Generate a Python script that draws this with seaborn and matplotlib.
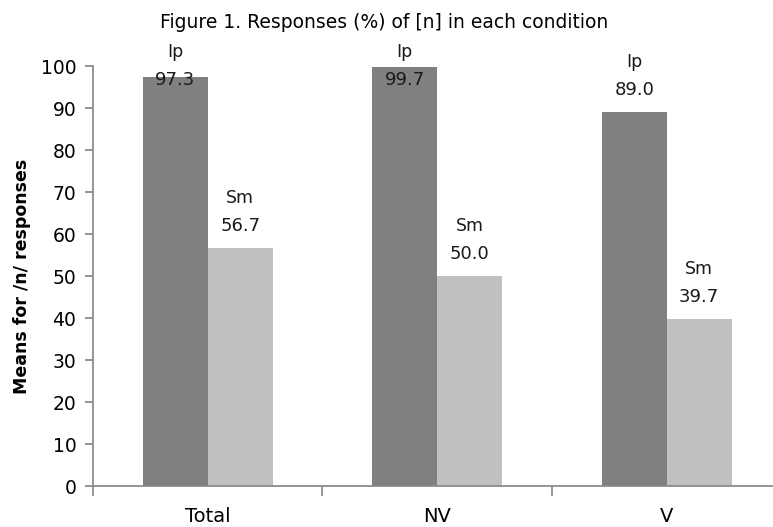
import matplotlib
matplotlib.use("Agg")
import matplotlib.pyplot as plt
import seaborn as sns
import pandas as pd

# ---- data ----
conditions = ["Total", "NV", "V"]
series_names = ["Ip", "Sm"]
ip_values = [97.3, 99.7, 89.0]
sm_values = [56.7, 50.0, 39.7]
y_ticks = [0, 10, 20, 30, 40, 50, 60, 70, 80, 90, 100]
title_text = "Figure 1. Responses (%) of [n] in each condition"
y_label = "Means for /n/ responses"

df = pd.DataFrame({
    "condition": conditions * 2,
    "series": [series_names[0]] * len(conditions) + [series_names[1]] * len(conditions),
    "value": ip_values + sm_values,
})

sns.set_theme(style="white")
plt.rcParams["font.family"] = ["DejaVu Sans"]

W, H = 773, 527
fig = plt.figure(figsize=(W / 100, H / 100), dpi=100)
ax = fig.add_axes([93 / W, 41 / H, 688.5 / W, 420 / H])

sns.barplot(data=df, x="condition", y="value", hue="series",
            order=conditions, hue_order=series_names,
            palette=["#808080", "#c0c0c0"], saturation=1,
            width=0.567, linewidth=0, legend=False, ax=ax)

ax.set_ylim(0, 100)
ax.set_xlim(-0.5, 2.5)
ax.set_yticks(y_ticks)
ax.set_xticks(range(len(conditions)))
ax.set_xticklabels(conditions)
ax.set_xticks([-0.5, 0.5, 1.5, 2.5], minor=True)
ax.set_xlabel("")

spine_c = "#8c8c8c"
for s in ["top", "right"]:
    ax.spines[s].set_visible(False)
for s in ["left", "bottom"]:
    ax.spines[s].set_color(spine_c)
    ax.spines[s].set_linewidth(1.3)

ax.tick_params(axis="y", left=True, length=6, width=1.3, color=spine_c,
               labelsize=13.5, labelcolor="#000000", pad=6)
ax.tick_params(axis="x", which="major", bottom=True, length=0,
               labelsize=14, labelcolor="#000000", pad=15)
ax.tick_params(axis="x", which="minor", bottom=True, length=7, width=1.3,
               color=spine_c)

ax.set_ylabel(y_label, fontsize=12.5, fontweight="bold", color="#000000")
ax.yaxis.set_label_coords(-0.090, 0.5)

# data labels: series name above value
px_per_unit = 4.2
for cont, name in zip(ax.containers, series_names):
    for bar in cont:
        h = bar.get_height()
        xc = bar.get_x() + bar.get_width() / 2
        vy = min(h + 22 / px_per_unit, 96.7)
        ny = vy + 28 / px_per_unit
        ax.text(xc, vy, f"{h:.1f}", ha="center", va="center",
                fontsize=13, color="#1a1a1a", clip_on=False)
        ax.text(xc, ny, name, ha="center", va="center",
                fontsize=12.5, color="#1a1a1a", clip_on=False)

fig.text(384 / W, 1 - 22 / H, title_text, ha="center", va="center",
         fontsize=13.5, color="#000000")

fig.savefig("out.png", dpi=100)
